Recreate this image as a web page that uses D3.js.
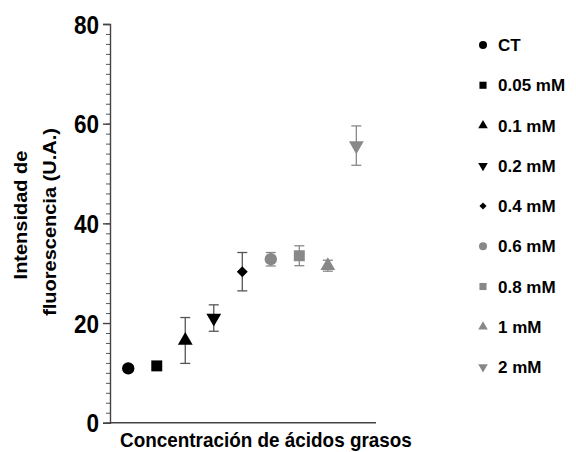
<!DOCTYPE html>
<html>
<head>
<meta charset="utf-8">
<script src="https://cdn.jsdelivr.net/npm/d3@7"></script>
<style>
  body { margin: 0; background: #fff; }
  text { font-family: "Liberation Sans", Arial, sans-serif; font-weight: bold; fill: #000; }
</style>
</head>
<body>
<script>
const width = 576;
const height = 452;

// data
const groups = ["CT", "0.05 mM", "0.1 mM", "0.2 mM", "0.4 mM", "0.6 mM", "0.8 mM", "1 mM", "2 mM"];
const means = [10.9, 11.4, 16.5, 21.0, 30.3, 32.8, 33.5, 31.5, 55.6];
const errs = [0, 0, 4.6, 2.65, 3.85, 1.35, 2.0, 1.1, 3.95];
const shapes = ["circle", "square", "triangle", "triangleDown", "diamond", "circle", "square", "triangle", "triangleDown"];
const colours = ["#000", "#000", "#000", "#000", "#000", "#888", "#888", "#888", "#888"];
const yTicks = [0, 20, 40, 60, 80];

const dataSet = groups.map((g, i) => ({
  name: g, mean: means[i], err: errs[i], shape: shapes[i], colour: colours[i], idx: i
}));

const svg = d3.select("body")
  .append("svg")
  .attr("width", width)
  .attr("height", height);

const padding = {left: 110, right: 200, top: 24, bottom: 29.3};

const xScale = d3.scaleLinear()
  .domain([-0.64, 8.69])
  .range([padding.left, width - padding.right]);

const yScale = d3.scaleLinear()
  .domain([0, 80])
  .range([height - padding.bottom, padding.top]);

// diamond is drawn as a square turned 45 degrees
const symbolType = {
  circle: d3.symbolCircle,
  square: d3.symbolSquare,
  triangle: d3.symbolTriangle,
  triangleDown: d3.symbolTriangle,
  diamond: d3.symbolSquare
};
const symbolSize = {circle: 120, square: 120, triangle: 95, triangleDown: 95, diamond: 60};
const symbolRot = {triangleDown: 180, diamond: 45};

const rot = d => symbolRot[d.shape] ? " rotate(" + symbolRot[d.shape] + ")" : "";

// y axis: minor ticks every 2, major every 20
const yMinor = d3.axisLeft(yScale).tickValues(d3.range(0, 81, 2)).tickSize(4).tickFormat("");
svg.append("g")
  .attr("transform", "translate(" + padding.left + ",0)")
  .call(yMinor)
  .call(g => g.select(".domain").remove())
  .selectAll("line").attr("stroke", "#555").attr("stroke-width", 1);

const yAxis = d3.axisLeft(yScale).tickValues(yTicks).tickSize(7).tickPadding(4);
const yG = svg.append("g")
  .attr("transform", "translate(" + padding.left + ",0)")
  .call(yAxis);
yG.select(".domain").attr("stroke", "#444").attr("stroke-width", 1.4);
yG.selectAll("line").attr("stroke", "#444").attr("stroke-width", 1.4);
yG.selectAll("text")
  .attr("font-size", 25)
  .attr("font-family", "Liberation Sans, Arial, sans-serif")
  .attr("font-weight", "bold")
  .attr("fill", "#000")
  .attr("dy", "0.36em")
  .attr("transform", function() {
    const x = +d3.select(this).attr("x");
    return "translate(" + (x * 0.1) + ",0) scale(0.9,1)";
  });

// x axis line only
svg.append("line")
  .attr("x1", padding.left)
  .attr("x2", width - padding.right)
  .attr("y1", yScale(0))
  .attr("y2", yScale(0))
  .attr("stroke", "#444")
  .attr("stroke-width", 1.4);

svg.append("text")
  .attr("transform", "translate(120," + 447 + ") scale(0.9,1)")
  .attr("font-size", 21)
  .text("Concentración de ácidos grasos");

svg.append("text")
  .attr("transform", "translate(27,215) rotate(-90) scale(1,0.9)")
  .attr("text-anchor", "middle")
  .attr("font-size", 20)
  .text("Intensidad de");

svg.append("text")
  .attr("transform", "translate(56,222) rotate(-90) scale(1,0.9)")
  .attr("text-anchor", "middle")
  .attr("font-size", 20)
  .text("fluorescencia (U.A.)");

// error bars
const eb = svg.append("g").selectAll("g")
  .data(dataSet.filter(d => d.err > 0))
  .join("g")
  .attr("stroke", d => d.colour === "#000" ? "#555" : "#888")
  .attr("stroke-width", 1.3);

eb.append("line")
  .attr("x1", d => xScale(d.idx)).attr("x2", d => xScale(d.idx))
  .attr("y1", d => yScale(d.mean - d.err)).attr("y2", d => yScale(d.mean + d.err));
eb.append("line")
  .attr("x1", d => xScale(d.idx) - 5).attr("x2", d => xScale(d.idx) + 5)
  .attr("y1", d => yScale(d.mean + d.err)).attr("y2", d => yScale(d.mean + d.err));
eb.append("line")
  .attr("x1", d => xScale(d.idx) - 5).attr("x2", d => xScale(d.idx) + 5)
  .attr("y1", d => yScale(d.mean - d.err)).attr("y2", d => yScale(d.mean - d.err));

// points
svg.append("g").selectAll("path")
  .data(dataSet)
  .join("path")
  .attr("transform", d => "translate(" + xScale(d.idx) + "," + yScale(d.mean) + ")" + rot(d))
  .attr("d", d => d3.symbol().type(symbolType[d.shape]).size(symbolSize[d.shape])())
  .attr("fill", d => d.colour);

// legend
const legend = svg.append("g").selectAll("g")
  .data(dataSet)
  .join("g")
  .attr("transform", d => "translate(483," + (45 + d.idx * 40.25) + ")");

legend.append("path")
  .attr("d", d => d3.symbol().type(symbolType[d.shape]).size(symbolSize[d.shape] * 0.42)())
  .attr("transform", d => rot(d) || null)
  .attr("fill", d => d.colour);

legend.append("text")
  .attr("x", 15)
  .attr("dy", "0.36em")
  .attr("font-size", 17)
  .text(d => d.name);
</script>
</body>
</html>
